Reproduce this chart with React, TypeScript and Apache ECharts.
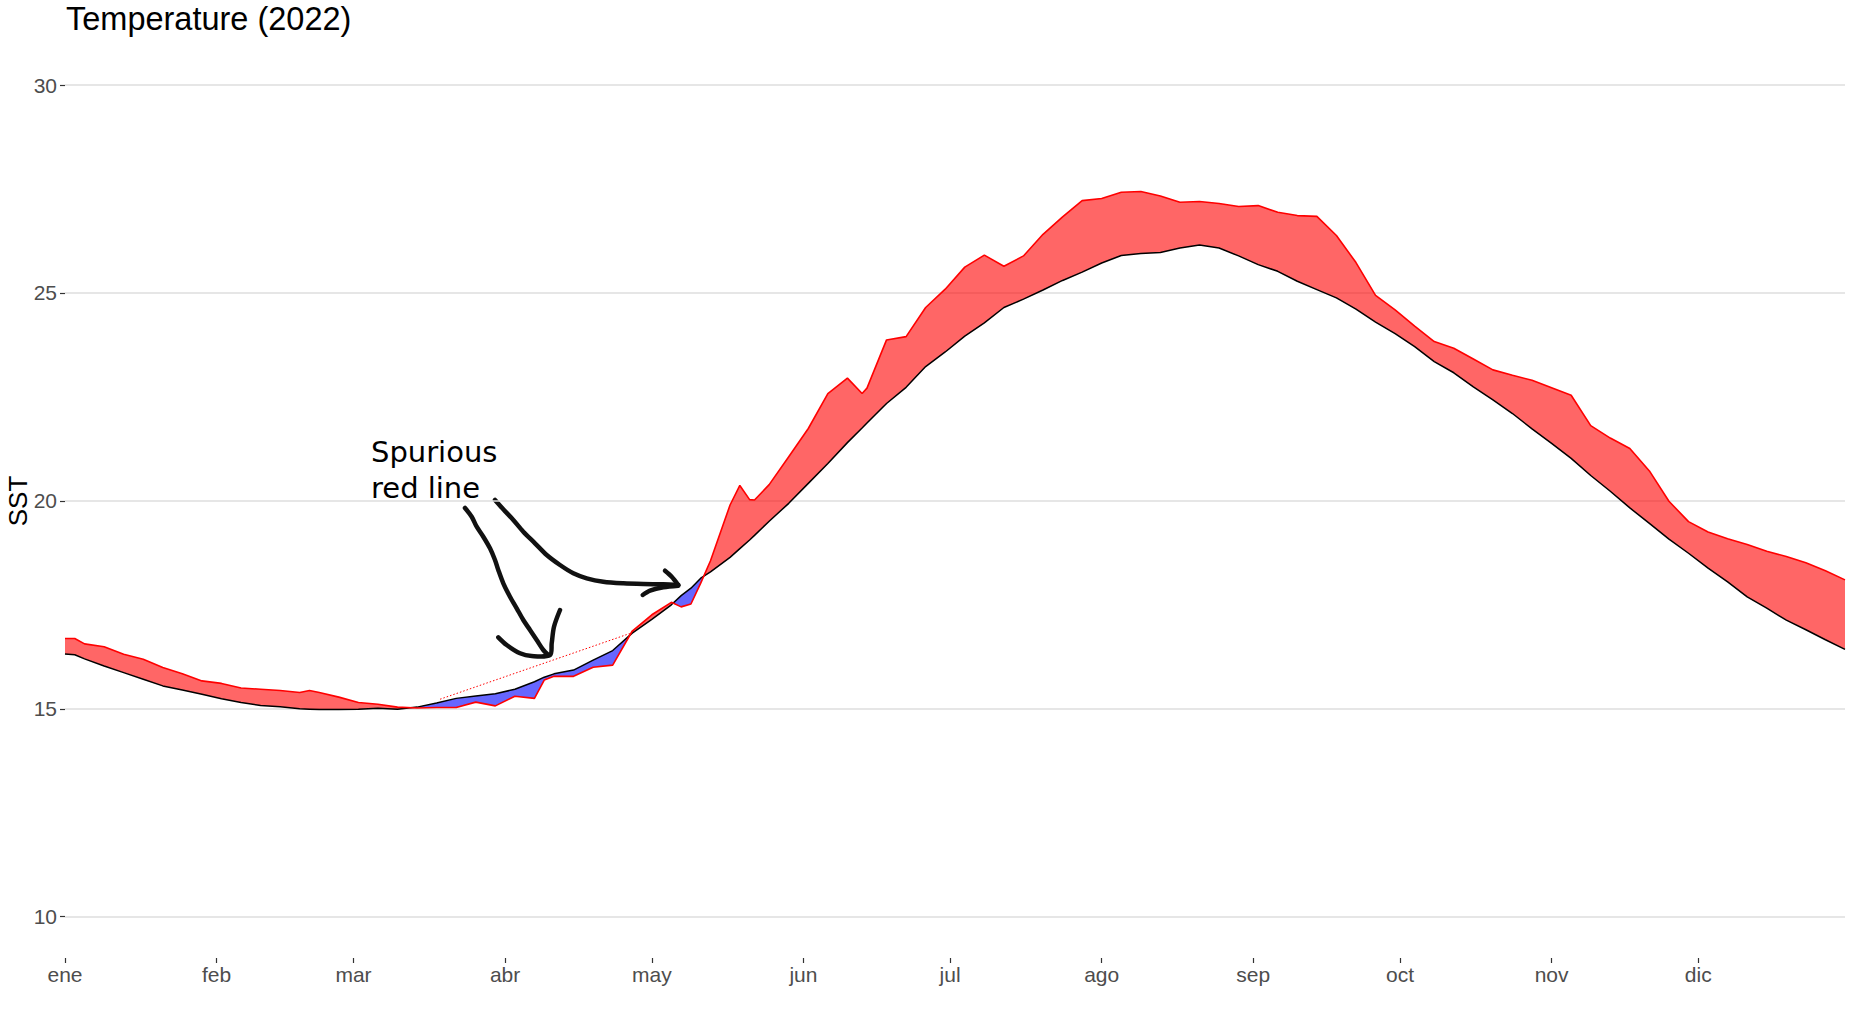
import React, { useEffect, useRef } from 'react';
import * as echarts from 'echarts';

// ---- data (day of year 2022, 0 = 1 Jan) ----
const YEAR = 2022;
const days = [0, 2, 4, 8, 12, 16, 20, 24, 28, 32, 36, 40, 44, 48, 50, 52, 56, 60, 64, 68, 72, 76, 80, 84, 88, 92, 96, 98, 100, 104, 108, 112, 116, 120, 124, 126, 128, 130, 132, 136, 138, 140, 141, 144, 148, 152, 156, 160, 163, 164, 168, 172, 176, 180, 184, 188, 192, 196, 200, 204, 208, 212, 216, 220, 224, 228, 232, 236, 240, 244, 248, 252, 256, 260, 264, 268, 272, 276, 280, 284, 288, 292, 296, 300, 304, 308, 312, 316, 320, 324, 328, 332, 336, 340, 344, 348, 352, 356, 360, 364];
const sst2022 = [16.69, 16.69, 16.56, 16.49, 16.31, 16.19, 15.99, 15.84, 15.67, 15.61, 15.50, 15.47, 15.44, 15.39, 15.44, 15.39, 15.28, 15.15, 15.11, 15.04, 15.02, 15.03, 15.03, 15.16, 15.07, 15.30, 15.25, 15.69, 15.78, 15.78, 16.00, 16.05, 16.87, 17.26, 17.56, 17.45, 17.52, 18.02, 18.56, 19.90, 20.37, 20.03, 20.02, 20.39, 21.06, 21.74, 22.58, 22.95, 22.58, 22.71, 23.87, 23.95, 24.65, 25.09, 25.62, 25.91, 25.64, 25.89, 26.41, 26.83, 27.22, 27.27, 27.42, 27.44, 27.33, 27.18, 27.20, 27.15, 27.08, 27.10, 26.94, 26.86, 26.84, 26.38, 25.73, 24.94, 24.59, 24.20, 23.83, 23.67, 23.41, 23.15, 23.02, 22.90, 22.72, 22.54, 21.81, 21.51, 21.26, 20.72, 19.99, 19.50, 19.25, 19.09, 18.95, 18.79, 18.66, 18.51, 18.32, 18.10];
const sstClim = [16.32, 16.30, 16.20, 16.03, 15.87, 15.71, 15.55, 15.45, 15.35, 15.24, 15.15, 15.08, 15.05, 15.00, 14.99, 14.98, 14.98, 14.99, 15.01, 14.99, 15.04, 15.14, 15.25, 15.31, 15.36, 15.47, 15.65, 15.76, 15.84, 15.93, 16.17, 16.40, 16.82, 17.15, 17.50, 17.72, 17.90, 18.14, 18.29, 18.64, 18.85, 19.06, 19.17, 19.51, 19.94, 20.42, 20.90, 21.40, 21.75, 21.87, 22.34, 22.73, 23.23, 23.58, 23.96, 24.28, 24.65, 24.85, 25.07, 25.30, 25.50, 25.72, 25.90, 25.95, 25.97, 26.08, 26.15, 26.08, 25.89, 25.68, 25.52, 25.28, 25.08, 24.88, 24.61, 24.30, 24.02, 23.71, 23.35, 23.08, 22.74, 22.43, 22.10, 21.73, 21.38, 21.02, 20.61, 20.23, 19.83, 19.46, 19.08, 18.74, 18.38, 18.05, 17.69, 17.42, 17.13, 16.90, 16.66, 16.43];
const spuriousDays = [76.7, 115.5];
const spuriousValues = [15.23, 16.81];
const monthLabels = ['ene', 'feb', 'mar', 'abr', 'may', 'jun', 'jul', 'ago', 'sep', 'oct', 'nov', 'dic'];
const yTicks = [10, 15, 20, 25, 30];
const titleText = 'Temperature (2022)';
const yTitle = 'SST';
const noteLines = ['Spurious', 'red line'];

const DAY = 86400000;
const t0 = Date.UTC(YEAR, 0, 1);
const ts = (d: number) => t0 + d * DAY;
const monthStarts = monthLabels.map((_, m) => Date.UTC(YEAR, m, 1));

const RED_FILL = 'rgba(255,0,0,0.6)';
const BLUE_FILL = 'rgba(0,0,255,0.6)';
const AXIS_FONT = '"Liberation Sans", Arial, sans-serif';

function renderRibbon(_params: any, api: any) {
  const children: any[] = [];
  let top: number[][] = [];
  let bottom: number[][] = [];
  let sign = 0;
  const flush = () => {
    if (top.length > 1) {
      children.push({
        type: 'polygon',
        silent: true,
        shape: { points: top.concat(bottom.slice().reverse()) },
        style: { fill: sign > 0 ? RED_FILL : BLUE_FILL, stroke: null, lineWidth: 0 },
      });
    }
  };
  for (let i = 0; i < days.length; i++) {
    const diff = sst2022[i] - sstClim[i];
    const s = diff >= 0 ? 1 : -1;
    if (i > 0 && s !== sign) {
      const pd = sst2022[i - 1] - sstClim[i - 1];
      const f = pd / (pd - diff);
      const cd = days[i - 1] + f * (days[i] - days[i - 1]);
      const cv = sstClim[i - 1] + f * (sstClim[i] - sstClim[i - 1]);
      const p = api.coord([ts(cd), cv]);
      top.push(p);
      bottom.push(p);
      flush();
      top = [p];
      bottom = [p];
    }
    sign = s;
    top.push(api.coord([ts(days[i]), sst2022[i]]));
    bottom.push(api.coord([ts(days[i]), sstClim[i]]));
  }
  flush();
  return { type: 'group', children };
}

const arrowStyle = { stroke: '#111', lineWidth: 4.5, lineCap: 'round', lineJoin: 'round', fill: null };

export default function App() {
  const ref = useRef<HTMLDivElement>(null);
  useEffect(() => {
    if (!ref.current) return;
    const chart = echarts.init(ref.current, undefined, { renderer: 'svg' });
    const obsData = days.map((d, i) => [ts(d), sst2022[i]]);
    const climData = days.map((d, i) => [ts(d), sstClim[i]]);
    const spurData = spuriousDays.map((d, i) => [ts(d), spuriousValues[i]]);
    chart.setOption({
      animation: false,
      backgroundColor: '#ffffff',
      grid: { left: 65, right: 7, top: 85, bottom: 102.3, containLabel: false },
      xAxis: {
        type: 'value',
        min: ts(0),
        max: ts(364),
        scale: true,
        offset: 41.3,
        axisLine: { show: false },
        axisTick: { show: true, length: 5, customValues: monthStarts, lineStyle: { color: '#333333', width: 1.2 } },
        axisLabel: {
          customValues: monthStarts,
          formatter: (v: number) => monthLabels[new Date(v).getUTCMonth()],
          fontSize: 21,
          fontFamily: AXIS_FONT,
          color: '#4d4d4d',
          margin: 5.5,
          hideOverlap: false,
        },
        splitLine: { show: false },
        minorTick: { show: false },
      },
      yAxis: {
        type: 'value',
        min: yTicks[0],
        max: yTicks[yTicks.length - 1],
        interval: 5,
        axisLine: { show: false },
        axisTick: { show: true, length: 5, lineStyle: { color: '#333333', width: 1.2 } },
        axisLabel: { fontSize: 21, fontFamily: AXIS_FONT, color: '#4d4d4d', margin: 8 },
        splitLine: { show: true, lineStyle: { color: '#dedede', width: 1.5 } },
      },
      series: [
        {
          type: 'custom',
          z: 1,
          silent: true,
          renderItem: renderRibbon,
          data: [[ts(0), 20]],
        },
        {
          type: 'line',
          z: 2,
          data: climData,
          symbol: 'none',
          showSymbol: false,
          lineStyle: { color: '#000000', width: 1.5 },
          silent: true,
        },
        {
          type: 'line',
          z: 3,
          data: obsData,
          symbol: 'none',
          showSymbol: false,
          lineStyle: { color: '#ff0000', width: 1.6 },
          silent: true,
        },
        {
          type: 'line',
          z: 4,
          data: spurData,
          symbol: 'none',
          showSymbol: false,
          lineStyle: { color: '#ff0000', width: 1, type: [1.5, 2] },
          silent: true,
        },
      ],
      graphic: [
        {
          type: 'text',
          x: 66, y: 18.5,
          style: { text: titleText, fontSize: 32.5, fontFamily: AXIS_FONT, fill: '#000', align: 'left', verticalAlign: 'middle' },
        },
        {
          type: 'text',
          x: 18, y: 501,
          rotation: Math.PI / 2,
          style: { text: yTitle, fontSize: 26, fontFamily: AXIS_FONT, fill: '#000', align: 'center', verticalAlign: 'middle' },
        },
        {
          type: 'text',
          x: 371, y: 451.7,
          style: { text: noteLines[0], fontSize: 29, fontFamily: '"DejaVu Sans", sans-serif', fill: '#000', align: 'left', verticalAlign: 'middle' },
        },
        {
          type: 'text',
          x: 371, y: 487.5,
          style: { text: noteLines[1], fontSize: 29, fontFamily: '"DejaVu Sans", sans-serif', fill: '#000', align: 'left', verticalAlign: 'middle' },
        },
        {
          type: 'polyline',
          shape: { smooth: 0.3, points: [[465, 508], [471.7, 516.7], [476.7, 526.7], [483.3, 536.7], [490, 548.3], [495, 560], [498.3, 570], [503.3, 583.3], [510, 596.7], [516.7, 608.3], [523.3, 620], [530, 630], [536.7, 640], [543.3, 650], [548.3, 655]] },
          style: arrowStyle,
        },
        {
          type: 'polyline',
          shape: { smooth: 0.3, points: [[498.3, 637.3], [506.7, 645], [520, 653.3], [531.7, 656], [550, 655], [551.7, 643.3], [554, 626.7], [560, 610]] },
          style: arrowStyle,
        },
        {
          type: 'polyline',
          shape: { smooth: 0.3, points: [[495, 500], [503.3, 509.3], [513.3, 520], [523.3, 531.7], [535, 543.3], [546.7, 555], [560, 565], [573.3, 573.3], [586.7, 578.3], [603.3, 581.7], [623.3, 583.3], [643.3, 584], [663.3, 584.3], [678.3, 585]] },
          style: arrowStyle,
        },
        {
          type: 'polyline',
          shape: { smooth: 0.3, points: [[665, 570.7], [671.7, 576.7], [678.3, 585]] },
          style: arrowStyle,
        },
        {
          type: 'polyline',
          shape: { smooth: 0.3, points: [[642.7, 595], [650, 590.7], [663.3, 587.3], [678.3, 585.7]] },
          style: arrowStyle,
        },
      ],
    });
    return () => chart.dispose();
  }, []);
  return <div ref={ref} style={{ position: 'fixed', left: 0, top: 0, width: 1852, height: 1019, background: '#fff' }} />;
}
